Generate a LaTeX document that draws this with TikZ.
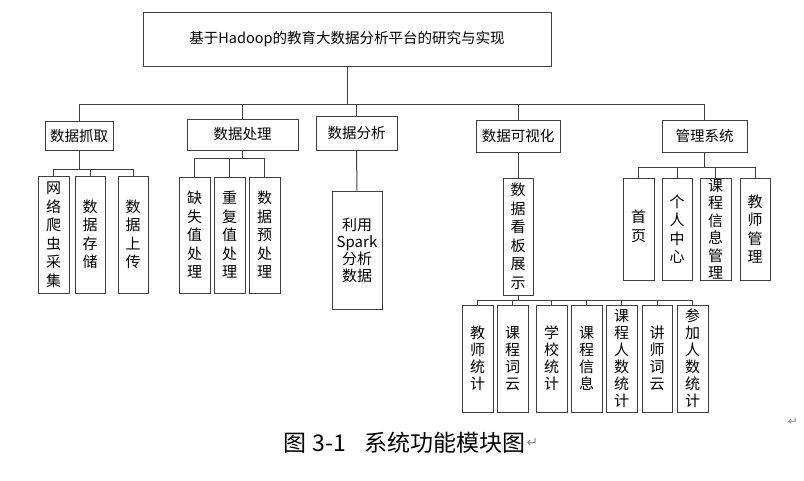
\documentclass[tikz,border=0pt]{standalone}
\usepackage{fontspec}
\setmainfont{Noto Sans CJK SC}
\newfontfamily\symfont{DejaVu Sans}
\begin{document}
\begin{tikzpicture}[x=1pt,y=-1pt,
  box/.style={draw=black!75, line width=1pt, inner sep=0pt, align=center,
    font=\fontsize{14.5}{18.5}\selectfont},
  vtext/.style={font=\fontsize{15}{18.5}\selectfont},
  conn/.style={draw=black!75, line width=1pt},
  retmark/.style={text=black!45, inner sep=0pt}]
\useasboundingbox (0,0) rectangle (804,480);

% top
\node[box, minimum width=408pt, minimum height=54pt] (top) at (347,39) {基于Hadoop的教育大数据分析平台的研究与实现};

% level 1
\node[box, minimum width=68pt, minimum height=29pt] (A) at (79,135.5) {数据抓取};
\node[box, minimum width=111pt, minimum height=31pt] (B) at (242.5,134.5) {数据处理};
\node[box, minimum width=81pt, minimum height=34pt] (C) at (356.5,133) {数据分析};
\node[box, minimum width=84pt, minimum height=32pt] (D) at (518,136) {数据可视化};
\node[box, minimum width=85pt, minimum height=32pt] (E) at (704.5,136) {管理系统};

\coordinate (bus0) at (0,104.5);
\draw[conn] (top.south) -- (top.south |- bus0);
\draw[conn] (A.north |- bus0) -- (E.north |- bus0);
\foreach \n in {A,B,C,D,E} \draw[conn] (\n.north) -- (\n.north |- bus0);

% under A
\node[box, vtext, minimum width=31pt, minimum height=117pt] (A1) at (53.5,234.5) {网\\络\\爬\\虫\\采\\集};
\node[box, vtext, minimum width=30pt, minimum height=117pt] (A2) at (90,234.5) {数\\据\\存\\储};
\node[box, vtext, minimum width=30pt, minimum height=117pt] (A3) at (133,234.5) {数\\据\\上\\传};
\coordinate (busA) at (0,169);
\draw[conn] (A.south) -- (A.south |- busA);
\draw[conn] (A1.north |- busA) -- (A3.north |- busA);
\foreach \n in {A1,A2,A3} \draw[conn] (\n.north) -- (\n.north |- busA);

% under B
\node[box, vtext, minimum width=31pt, minimum height=116pt] (B1) at (194.5,235) {缺\\失\\值\\处\\理};
\node[box, vtext, minimum width=31pt, minimum height=116pt] (B2) at (229.5,235) {重\\复\\值\\处\\理};
\node[box, vtext, minimum width=31pt, minimum height=116pt] (B3) at (264.5,235) {数\\据\\预\\处\\理};
\coordinate (busB) at (0,158);
\draw[conn] (B.south) -- (B.south |- busB);
\draw[conn] (B1.north |- busB) -- (B3.north |- busB);
\foreach \n in {B1,B2,B3} \draw[conn] (\n.north) -- (\n.north |- busB);

% under C
\node[box, minimum width=50pt, minimum height=118pt, font=\fontsize{15}{17}\selectfont] (C1) at (357,250) {利用\\Spark\\分析\\数据};
\draw[conn] (C.south) -- (C1.north);

% under D
\node[box, vtext, minimum width=30pt, minimum height=117pt] (D1) at (518,236.5) {数\\据\\看\\板\\展\\示};
\draw[conn] (D.south) -- (D1.north);
\begin{scope}[box/.append style={font=\fontsize{15}{17}\selectfont}]
\node[box, minimum width=31pt, minimum height=107pt] (G1) at (477.5,358.5) {教\\师\\统\\计};
\node[box, minimum width=31pt, minimum height=107pt] (G2) at (512.5,358.5) {课\\程\\词\\云};
\node[box, minimum width=31pt, minimum height=107pt] (G3) at (551.5,358.5) {学\\校\\统\\计};
\node[box, minimum width=31pt, minimum height=107pt] (G4) at (586.5,358.5) {课\\程\\信\\息};
\node[box, minimum width=31pt, minimum height=107pt] (G5) at (621.5,358.5) {课\\程\\人\\数\\统\\计};
\node[box, minimum width=30pt, minimum height=107pt] (G6) at (657,358.5) {讲\\师\\词\\云};
\node[box, minimum width=31pt, minimum height=107pt] (G7) at (692.5,358.5) {参\\加\\人\\数\\统\\计};
\end{scope}
\coordinate (busD) at (0,300);
\draw[conn] (D1.south) -- (D1.south |- busD);
\draw[conn] (G1.north |- busD) -- (G7.north |- busD);
\foreach \n in {G1,G2,G3,G4,G5,G6,G7} \draw[conn] (\n.north) -- (\n.north |- busD);

% under E
\node[box, vtext, minimum width=31pt, minimum height=102pt] (E1) at (638.5,229) {\raisebox{6pt}{\shortstack{首\\[3pt]页}}};
\node[box, vtext, minimum width=30pt, minimum height=102pt] (E2) at (677,229) {个\\人\\中\\心};
\node[box, minimum width=31pt, minimum height=102pt, font=\fontsize{15}{17.5}\selectfont] (E3) at (715.5,229) {课\\程\\信\\息\\管\\理};
\node[box, vtext, minimum width=30pt, minimum height=102pt] (E4) at (755,229) {教\\师\\管\\理};
\coordinate (busE) at (0,167);
\draw[conn] (E.south) -- (E.south |- busE);
\draw[conn] (E1.north |- busE) -- (E4.north |- busE);
\foreach \n in {E1,E2,E3,E4} \draw[conn] (\n.north) -- (\n.north |- busE);

% caption
\node[inner sep=0pt, font=\fontsize{23}{26}\selectfont] (cap) at (404.5,443) {图\hspace{6pt}3-1\hspace{18pt}系统功能模块图};
\node[retmark, anchor=west, font=\symfont\fontsize{14}{16}\selectfont] (capret) at ([xshift=1pt]cap.east) {↵};
\node[retmark, font=\symfont\fontsize{12}{14}\selectfont] (sideret) at (793,422) {↵};
\end{tikzpicture}
\end{document}
